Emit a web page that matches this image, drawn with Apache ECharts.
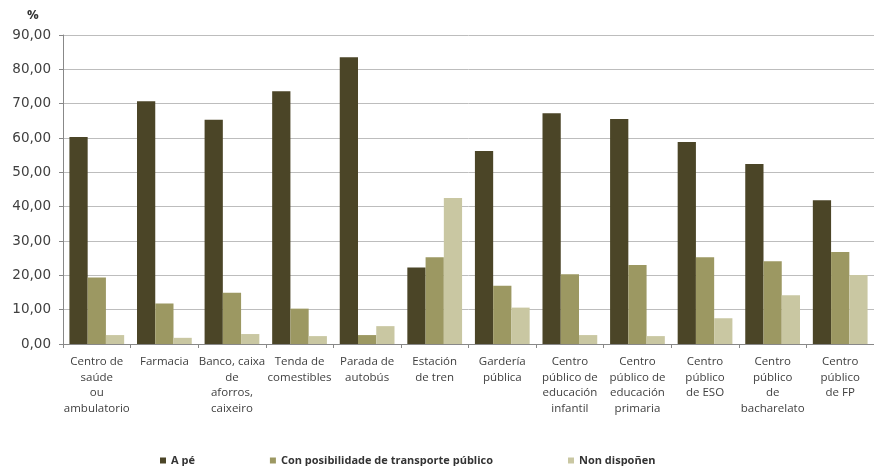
<!DOCTYPE html>
<html><head><meta charset="utf-8">
<script src="https://cdn.jsdelivr.net/npm/echarts@6/dist/echarts.min.js"></script>
<style>html,body{margin:0;padding:0;background:#fff}#c{width:874px;height:466px}</style>
</head><body><div id="c"></div>
<script>
const categories = ["Centro de\nsaúde\nou\nambulatorio","Farmacia","Banco, caixa\nde\naforros,\ncaixeiro","Tenda de\ncomestibles","Parada de\nautobús","Estación\nde tren","Gardería\npública","Centro\npúblico de\neducación\ninfantil","Centro\npúblico de\neducación\nprimaria","Centro\npúblico\nde ESO","Centro\npúblico\nde\nbacharelato","Centro\npúblico\nde FP"];
const seriesNames = ["A pé","Con posibilidade de transporte público","Non dispoñen"];
const aPe = [60.3,70.7,65.3,73.6,83.5,22.3,56.2,67.2,65.5,58.8,52.4,41.9];
const conTransporte = [19.4,11.8,14.9,10.3,2.6,25.3,17.0,20.3,23.0,25.3,24.1,26.8];
const nonDisponen = [2.6,1.8,2.9,2.3,5.2,42.5,10.6,2.6,2.3,7.5,14.2,20.1];
const colors = ["#4b4527","#9c9862","#c9c7a2"];
const chart = echarts.init(document.getElementById('c'));
chart.setOption({
  animation:false,
  textStyle:{fontFamily:"Open Sans"},
  grid:{left:63,right:0,top:35,bottom:122},
  title:{text:"%",left:22,top:4,textStyle:{fontSize:13,fontWeight:"bold",color:"#333",fontFamily:"Open Sans"}},
  legend:{top:450,left:155,itemWidth:6,itemHeight:6,itemGap:75,icon:"rect",
    textStyle:{fontSize:11,fontWeight:"bold",color:"#333"},data:seriesNames},
  xAxis:{type:"category",data:categories,
    axisLine:{lineStyle:{color:"#888"}},axisTick:{show:true,lineStyle:{color:"#888"},length:4},
    axisLabel:{interval:0,fontSize:11.5,color:"#404040",lineHeight:15.5,margin:10}},
  yAxis:{type:"value",min:0,max:90,interval:10,
    axisLine:{show:true,lineStyle:{color:"#888"}},axisTick:{show:true,length:4,lineStyle:{color:"#888"}},
    splitLine:{lineStyle:{color:"#bdbdbd"}},
    axisLabel:{fontSize:13.5,fontFamily:"DejaVu Sans",color:"#404040",margin:12,formatter:v=>v.toFixed(2).replace('.',',')}},
  series:[
    {name:seriesNames[0],type:"bar",data:aPe,itemStyle:{color:colors[0]},barGap:"0%",barCategoryGap:"19%"},
    {name:seriesNames[1],type:"bar",data:conTransporte,itemStyle:{color:colors[1]}},
    {name:seriesNames[2],type:"bar",data:nonDisponen,itemStyle:{color:colors[2]}}
  ]
});
</script></body></html>
